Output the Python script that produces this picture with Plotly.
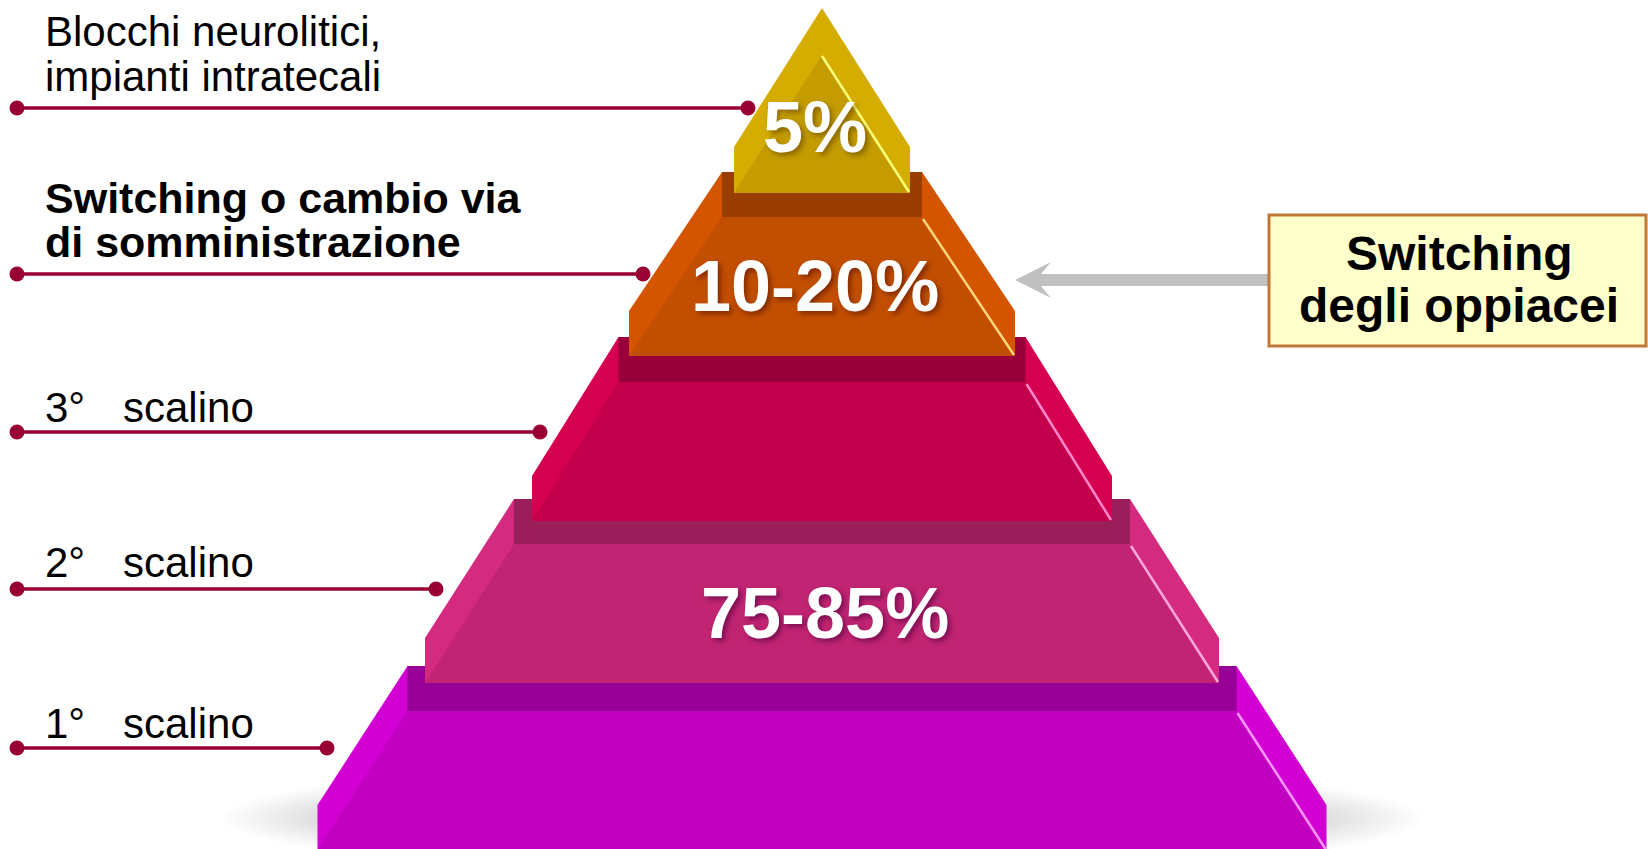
import plotly.graph_objects as go

# ---------------- data ----------------
step_ordinals = ["", "", "3°", "2°", "1°"]
step_texts = [
    ["Blocchi neurolitici,", "impianti intratecali"],
    ["Switching o cambio via", "di somministrazione"],
    ["scalino"],
    ["scalino"],
    ["scalino"],
]
step_bold = [False, True, False, False, False]
share_labels = ["5%", "10-20%", "75-85%"]
callout_lines = ["Switching", "degli oppiacei"]

# ---------------- geometry / style ----------------
W, H = 1648, 849
CX = 822
FONT = "Liberation Sans, Arial, sans-serif"
LINE_COL = "#990033"

leader_y = [108, 274, 432, 589, 748]
leader_end = [748, 643, 540, 436, 327]
leader_start = 17
label_y = [[31, 76], [198, 242], [407], [562], [723]]

tiers = [
    dict(top=172, a=100, b=193, outer="#D45500", inner="#C24F00", band="#9A3D00", hl="#FFD47A"),
    dict(top=337, a=203.5, b=290, outer="#D5004F", inner="#C2004B", band="#99003B", hl="#FF86CC"),
    dict(top=499, a=308, b=397, outer="#D42A80", inner="#C02472", band="#9A1E5A", hl="#FFA6DE"),
    dict(top=666, a=414.5, b=504.5, outer="#D200D2", inner="#C200C2", band="#960096", hl="#FF96FF"),
]
SH, BH, TH = 139, 45, 184

share_pos = [(815, 127), (815, 286), (825, 613)]
share_shadow = ["3px 3px 5px rgba(90,60,0,0.55)",
                "3px 3px 5px rgba(90,20,0,0.6)",
                "3px 3px 5px rgba(80,0,60,0.6)"]


def path(pts):
    return "M " + " L ".join(f"{x},{y}" for x, y in pts) + " Z"


shapes = []

# soft shadow under the base (many faint layers)
n_layers = 16
for k in range(n_layers):
    f = k / (n_layers - 1)
    rx = 600 - 90 * f
    ry = 58 - 22 * f
    shapes.append(dict(type="circle", xref="x", yref="y", x0=CX - rx, x1=CX + rx,
                       y0=818 - ry, y1=818 + ry, fillcolor="rgba(0,0,0,0.009)",
                       line=dict(width=0), layer="below"))

for t in reversed(tiers):
    T, a, b = t["top"], t["a"], t["b"]
    outer = [(CX - a, T), (CX + a, T), (CX + b, T + SH), (CX + b, T + TH),
             (CX - b, T + TH), (CX - b, T + SH)]
    inner = [(CX - a, T + BH), (CX + a, T + BH), (CX + b, T + TH), (CX - b, T + TH)]
    shapes.append(dict(type="path", path=path(outer), fillcolor=t["outer"],
                       line=dict(width=0), layer="below"))
    shapes.append(dict(type="path", path=path(inner), fillcolor=t["inner"],
                       line=dict(width=0), layer="below"))
    shapes.append(dict(type="rect", x0=CX - a, x1=CX + a, y0=T, y1=T + BH,
                       fillcolor=t["band"], line=dict(width=0), layer="below"))
    shapes.append(dict(type="line", x0=CX + a + 1, y0=T + BH + 2, x1=CX + b - 1, y1=T + TH - 1,
                       line=dict(color=t["hl"], width=2.5), layer="below"))

# golden cap
g_apex, g_sh, g_bot, g_half = 8, 147, 193, 88
shapes.append(dict(type="path",
                   path=path([(CX, g_apex), (CX + g_half, g_sh), (CX + g_half, g_bot),
                              (CX - g_half, g_bot), (CX - g_half, g_sh)]),
                   fillcolor="#D5AD00", line=dict(width=0), layer="below"))
shapes.append(dict(type="path",
                   path=path([(CX, g_apex + 47), (CX + g_half, g_bot), (CX - g_half, g_bot)]),
                   fillcolor="#C49C00", line=dict(width=0), layer="below"))
shapes.append(dict(type="line", x0=CX, y0=g_apex + 48, x1=CX + g_half - 1, y1=g_bot - 1,
                   line=dict(color="#FFFF78", width=2.5), layer="below"))

# arrow
shapes.append(dict(type="path",
                   path=path([(1015, 280), (1051, 262), (1041, 274), (1270, 274),
                              (1270, 286), (1041, 286), (1051, 298)]),
                   fillcolor="#C0C0C0", line=dict(width=0), layer="below"))
# callout box
shapes.append(dict(type="rect", x0=1269, x1=1646, y0=215, y1=346, fillcolor="#FFFFCC",
                   line=dict(color="#C07838", width=3), layer="below"))

fig = go.Figure()

for y, xe in zip(leader_y, leader_end):
    fig.add_trace(go.Scatter(x=[leader_start, xe], y=[y, y], mode="lines+markers",
                             line=dict(color=LINE_COL, width=3.5),
                             marker=dict(color=LINE_COL, size=15),
                             hoverinfo="skip", showlegend=False))

annotations = []
for i, lines in enumerate(step_texts):
    if step_ordinals[i]:
        annotations.append(dict(x=43, y=label_y[i][0], text=step_ordinals[i], showarrow=False,
                                xanchor="left", yanchor="middle",
                                font=dict(family=FONT, size=42, color="#000000")))
        annotations.append(dict(x=121, y=label_y[i][0], text=lines[0], showarrow=False,
                                xanchor="left", yanchor="middle",
                                font=dict(family=FONT, size=42, color="#000000")))
    else:
        for j, ln in enumerate(lines):
            annotations.append(dict(x=43, y=label_y[i][j], text=ln, showarrow=False,
                                    xanchor="left", yanchor="middle",
                                    font=dict(family=FONT, size=43 if step_bold[i] else 42,
                                              color="#000000",
                                              weight=700 if step_bold[i] else 400)))

for txt, (x, y), sh in zip(share_labels, share_pos, share_shadow):
    annotations.append(dict(x=x, y=y, text=txt, showarrow=False, xanchor="center",
                            yanchor="middle",
                            font=dict(family=FONT, size=72, color="#FFFFFF", weight=700,
                                      shadow=sh)))

for ln, y in zip(callout_lines, [253, 305]):
    annotations.append(dict(x=1459, y=y, text=ln, showarrow=False, xanchor="center",
                            yanchor="middle",
                            font=dict(family=FONT, size=48, color="#000000", weight=700)))

fig.update_layout(
    width=W, height=H, margin=dict(l=0, r=0, t=0, b=0),
    paper_bgcolor="#FFFFFF", plot_bgcolor="#FFFFFF",
    xaxis=dict(range=[0, W], visible=False, fixedrange=True),
    yaxis=dict(range=[H, 0], visible=False, fixedrange=True),
    shapes=shapes, annotations=annotations, showlegend=False,
)

fig.write_html("out.html", config=dict(displayModeBar=False))
